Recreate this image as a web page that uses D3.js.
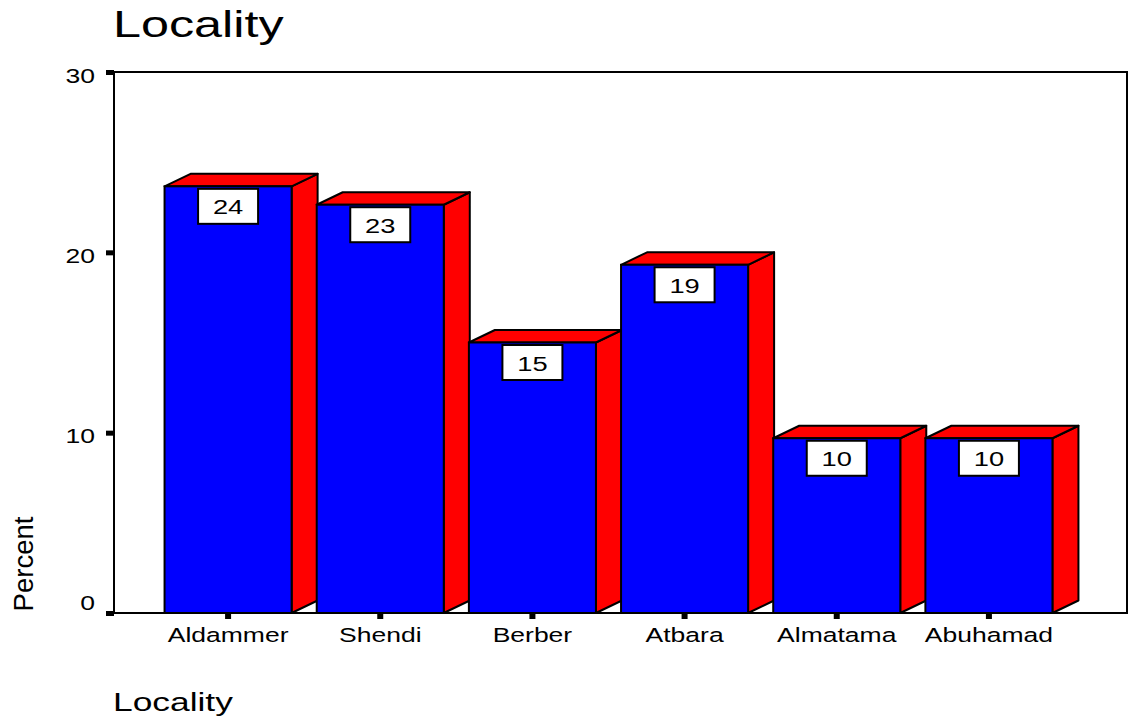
<!DOCTYPE html>
<html><head><meta charset="utf-8">
<script src="https://cdn.jsdelivr.net/npm/d3@7"></script>
<style>body{margin:0;background:#fff}svg{display:block;font-family:Arial,"Liberation Sans",sans-serif}</style>
</head><body><svg id="c" width="1132" height="725"></svg>
<script>
const categories = ["Aldammer","Shendi","Berber","Atbara","Almatama","Abuhamad"];
const percents = [23.66, 22.64, 15.0, 19.31, 9.69, 9.69];
const yTicks = [0,10,20,30];

const SX = 1.36; // horizontal stretch of the original text rendering
const FONT = "Arial,'Liberation Sans',sans-serif";
const svg = d3.select("#c");
const L = 114, R = 1127, T = 72, B = 613;
const y = d3.scaleLinear().domain([0,30]).range([B,T]);
const x = d3.scaleBand().domain(categories).range([152,1065]).padding(0);
const bw = x.bandwidth()*0.835;
const dx = 26, dy = 12.5;

function stext(px, py, str, size, anchor){
  return svg.append("text").attr("transform",`translate(${px},${py}) scale(${SX},1)`)
    .attr("text-anchor",anchor||"start").attr("font-size",size).attr("font-family",FONT).text(str);
}

// frame
svg.append("rect").attr("x",L).attr("y",T).attr("width",R-L).attr("height",B-T)
  .attr("fill","#fff").attr("stroke","#000").attr("stroke-width",2);

// bars
const g = svg.append("g");
categories.forEach((c,i)=>{
  const cx = x(c)+x.bandwidth()/2, x0 = cx-bw/2, x1 = cx+bw/2, yt = y(percents[i]);
  g.append("path").attr("d",`M${x1},${B}L${x1},${yt}L${x1+dx},${yt-dy}L${x1+dx},${B-dy}Z`)
    .attr("fill","#ff0000").attr("stroke","#000").attr("stroke-width",2).attr("stroke-linejoin","round");
  g.append("path").attr("d",`M${x0},${yt}L${x0+dx},${yt-dy}L${x1+dx},${yt-dy}L${x1},${yt}Z`)
    .attr("fill","#ff0000").attr("stroke","#000").attr("stroke-width",2).attr("stroke-linejoin","round");
  g.append("rect").attr("x",x0).attr("y",yt).attr("width",bw).attr("height",B-yt)
    .attr("fill","#0000ff").attr("stroke","#000").attr("stroke-width",2);
  g.append("rect").attr("x",cx-30).attr("y",yt+2.5).attr("width",60).attr("height",35)
    .attr("fill","#fff").attr("stroke","#000").attr("stroke-width",2);
  g.append("text").attr("transform",`translate(${cx},${yt+28}) scale(1.3,1)`).attr("text-anchor","middle")
    .attr("font-size",21).attr("font-family",FONT).text(d3.format(".0f")(percents[i]));
});

svg.append("line").attr("x1",L).attr("x2",R).attr("y1",B).attr("y2",B).attr("stroke","#000").attr("stroke-width",2);
svg.append("line").attr("x1",L).attr("x2",L).attr("y1",T).attr("y2",B).attr("stroke","#000").attr("stroke-width",2);

// y axis
const ya = svg.append("g").attr("transform",`translate(${L},0)`)
  .call(d3.axisLeft(y).tickValues(yTicks).tickSize(0).tickPadding(0).tickFormat(()=>""));
ya.select(".domain").remove();
ya.selectAll(".tick text").remove();
ya.selectAll(".tick").append("rect").attr("x",-8).attr("y",-2.5).attr("width",8).attr("height",5).attr("fill","#000");
ya.selectAll(".tick").append("text")
  .attr("transform",d=>`translate(-19,${d===0?-4:10}) scale(${SX},1)`)
  .attr("text-anchor","end").attr("font-size",19.5).attr("font-family",FONT).attr("fill","#000")
  .text(d=>d);

// x axis
const xa = svg.append("g").attr("transform",`translate(0,${B})`)
  .call(d3.axisBottom(x).tickSize(0).tickPadding(0));
xa.select(".domain").remove();
xa.selectAll(".tick text").remove();
xa.selectAll(".tick").append("rect").attr("x",-3).attr("y",0).attr("width",6).attr("height",6).attr("fill","#000");
xa.selectAll(".tick").append("text")
  .attr("transform",`translate(0,29) scale(${SX},1)`)
  .attr("text-anchor","middle").attr("font-size",19.5).attr("font-family",FONT).attr("fill","#000")
  .text(d=>d);

// titles
stext(113,37,"Locality",37);
stext(113,711,"Locality",26);
svg.append("text").attr("transform",`translate(33,564) scale(${SX},1) rotate(-90)`)
  .attr("text-anchor","middle").attr("font-size",20).attr("font-family",FONT)
  .attr("textLength",95).attr("lengthAdjust","spacingAndGlyphs").text("Percent");
</script></body></html>
